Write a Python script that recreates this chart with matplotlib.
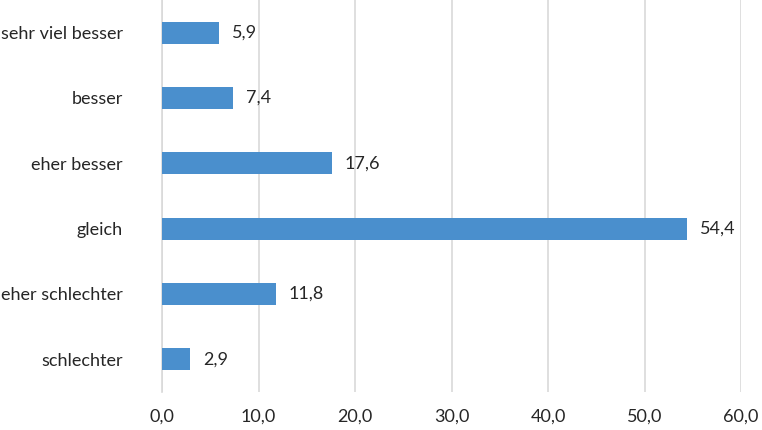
import matplotlib
matplotlib.use("Agg")
import matplotlib.pyplot as plt

categories = ["sehr viel besser", "besser", "eher besser", "gleich", "eher schlechter", "schlechter"]
values = [5.9, 7.4, 17.6, 54.4, 11.8, 2.9]
xticks = [0, 10, 20, 30, 40, 50, 60]

plt.rcParams['font.family'] = ['Lato', 'DejaVu Sans']

fig = plt.figure(figsize=(7.62, 4.30), dpi=100)
ax = fig.add_axes([162/762, 1 - 392/430, (741-162)/762, 392/430])

y = list(range(len(categories)))
ax.barh(y, values, height=0.34, color="#4a8fcd", zorder=3)
for yi, v in zip(y, values):
    ax.text(v + 1.35, yi, f"{v:.1f}".replace(".", ","), va="center", ha="left",
            fontsize=13, color="#262626")

ax.set_ylim(len(categories) - 0.5, -0.5)
ax.set_xlim(0, 60)
ax.set_yticks(y)
ax.set_yticklabels(categories, fontsize=13, color="#262626")
ax.set_xticks(xticks)
ax.set_xticklabels([f"{t:.1f}".replace(".", ",") for t in xticks], fontsize=13, color="#262626")
ax.tick_params(axis="both", length=0)
ax.tick_params(axis="y", pad=28)
ax.tick_params(axis="x", pad=12)
ax.grid(axis="x", color="#d9d9d9", linewidth=1.2, zorder=0)
for s in ["top", "right", "bottom"]:
    ax.spines[s].set_visible(False)
ax.spines["left"].set_color("#d9d9d9")
ax.spines["left"].set_linewidth(1.2)

fig.savefig("out.png", dpi=100)
